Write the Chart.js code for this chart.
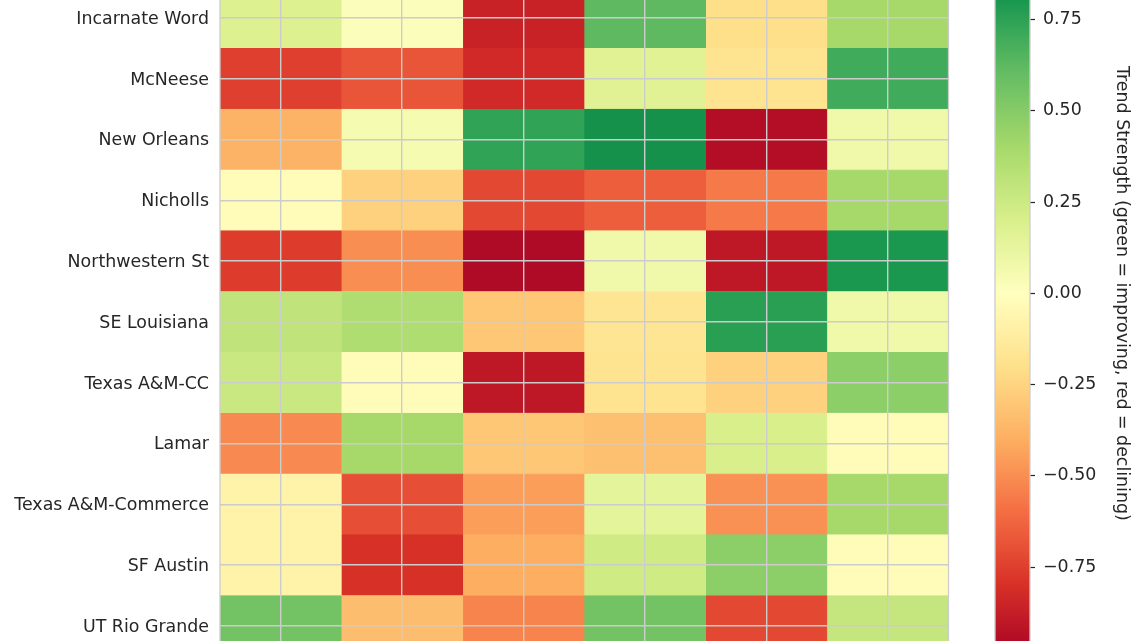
<!DOCTYPE html>
<html>
<head>
<meta charset="utf-8">
<script src="https://cdn.jsdelivr.net/npm/chart.js@4.4.1/dist/chart.umd.min.js"></script>
<style>
  html, body { margin: 0; padding: 0; background: #fff; width: 1140px; height: 641px; overflow: hidden; }
  #heat-wrap { position: absolute; left: 0; top: -34.5px; width: 960px; height: 724px; }
  #bar-wrap { position: absolute; left: 990px; top: -100px; width: 150px; height: 790px; }
</style>
</head>
<body>
<div id="heat-wrap"><canvas id="heatmap"></canvas></div>
<div id="bar-wrap"><canvas id="colorbar"></canvas></div>
<script>
// ====== Data ======
const teams = [
  'Incarnate Word', 'McNeese', 'New Orleans', 'Nicholls', 'Northwestern St',
  'SE Louisiana', 'Texas A&M-CC', 'Lamar', 'Texas A&M-Commerce', 'SF Austin', 'UT Rio Grande'
];

// trend strength per team, one value per column (left to right)
const incarnateWord   = [0.18, 0.02, -0.86, 0.62, -0.20, 0.40];
const mcneese         = [-0.75, -0.68, -0.83, 0.16, -0.18, 0.70];
const newOrleans      = [-0.38, 0.05, 0.74, 0.83, -0.94, 0.08];
const nicholls        = [-0.02, -0.26, -0.72, -0.65, -0.56, 0.40];
const northwesternSt  = [-0.76, -0.50, -0.96, 0.08, -0.90, 0.80];
const seLouisiana     = [0.30, 0.36, -0.30, -0.17, 0.76, 0.08];
const texasAmCC       = [0.26, -0.02, -0.90, -0.18, -0.26, 0.48];
const lamar           = [-0.51, 0.40, -0.30, -0.33, 0.20, -0.02];
const texasAmCommerce = [-0.08, -0.70, -0.45, 0.14, -0.49, 0.40];
const sfAustin        = [-0.08, -0.80, -0.40, 0.24, 0.48, -0.02];
const utRioGrande     = [0.56, -0.34, -0.53, 0.56, -0.72, 0.28];

const trendRows = [
  incarnateWord, mcneese, newOrleans, nicholls, northwesternSt,
  seLouisiana, texasAmCC, lamar, texasAmCommerce, sfAustin, utRioGrande
];

const colorMin = -1;
const colorMax = 1;
const colorbarTicks = [-0.75, -0.5, -0.25, 0, 0.25, 0.5, 0.75];
const colorbarTitle = 'Trend Strength (green = improving, red = declining)';

// ====== Colormap (RdYlGn) ======
const rdYlGn = [
  [165, 0, 38], [215, 48, 39], [244, 109, 67], [253, 174, 97], [254, 224, 139],
  [255, 255, 191], [217, 239, 139], [166, 217, 106], [102, 189, 99], [26, 152, 80], [0, 104, 55]
];

function colorFor(v) {
  let t = (v - colorMin) / (colorMax - colorMin);
  t = Math.max(0, Math.min(1, t));
  const pos = t * (rdYlGn.length - 1);
  const i = Math.min(Math.floor(pos), rdYlGn.length - 2);
  const f = pos - i;
  const a = rdYlGn[i], b = rdYlGn[i + 1];
  const c = a.map((x, k) => Math.round(x + (b[k] - x) * f));
  return `rgb(${c[0]}, ${c[1]}, ${c[2]})`;
}

const FONT = 'DejaVu Sans';
const TEXT = '#262626';
const GRID = '#cccccc';

// outline round the plot area
const outline = {
  id: 'outline',
  afterDraw(chart) {
    const { ctx, chartArea: a } = chart;
    ctx.save();
    ctx.strokeStyle = GRID;
    ctx.lineWidth = 1.3;
    ctx.strokeRect(a.left, a.top, a.right - a.left, a.bottom - a.top);
    ctx.restore();
  }
};

// ====== Heatmap ======
const nCols = trendRows[0].length;
const datasets = [];
for (let c = 0; c < nCols; c++) {
  datasets.push({
    data: teams.map(() => [c, c + 1]),
    backgroundColor: trendRows.map(row => colorFor(row[c])),
    borderColor: trendRows.map(row => colorFor(row[c])),
    borderWidth: 0.6,
    borderSkipped: false,
    barPercentage: 1,
    categoryPercentage: 1,
    grouped: false
  });
}

new Chart(document.getElementById('heatmap'), {
  type: 'bar',
  data: { labels: teams, datasets: datasets },
  options: {
    indexAxis: 'y',
    responsive: true,
    maintainAspectRatio: false,
    animation: false,
    layout: { padding: { top: 21.4, bottom: 33.7, right: 11.5, left: 0 } },
    plugins: { legend: { display: false }, tooltip: { enabled: false } },
    scales: {
      x: {
        type: 'linear',
        min: 0,
        max: nCols,
        afterBuildTicks: scale => {
          scale.ticks = Array.from({ length: nCols }, (_, i) => ({ value: i + 0.5 }));
        },
        afterFit: scale => { scale.height = 0; },
        ticks: { display: false },
        grid: { z: 1, color: GRID, lineWidth: 1.4, drawTicks: false },
        border: { display: false }
      },
      y: {
        afterFit: scale => { scale.width = 220; },
        ticks: { color: TEXT, font: { family: FONT, size: 17.4 }, padding: 11, labelOffset: 1.5 },
        grid: { z: 1, offset: false, color: GRID, lineWidth: 1.4, drawTicks: false },
        border: { display: false }
      }
    }
  },
  plugins: [outline]
});

// ====== Colorbar ======
const gradientFill = {
  id: 'gradientFill',
  beforeDatasetsDraw(chart) {
    const { ctx, chartArea: a, scales: { y } } = chart;
    const g = ctx.createLinearGradient(0, y.getPixelForValue(colorMin), 0, y.getPixelForValue(colorMax));
    const steps = 40;
    for (let i = 0; i <= steps; i++) {
      const v = colorMin + (colorMax - colorMin) * i / steps;
      g.addColorStop(i / steps, colorFor(v));
    }
    ctx.save();
    ctx.fillStyle = g;
    ctx.fillRect(a.left, a.top, a.right - a.left, a.bottom - a.top);
    ctx.restore();
  }
};

new Chart(document.getElementById('colorbar'), {
  type: 'scatter',
  data: { datasets: [{ data: [] }] },
  options: {
    responsive: true,
    maintainAspectRatio: false,
    animation: false,
    layout: { padding: { top: 28.3, bottom: 31.5, left: 5, right: 0 } },
    plugins: { legend: { display: false }, tooltip: { enabled: false } },
    scales: {
      x: { display: false, min: 0, max: 1 },
      y: {
        position: 'right',
        min: colorMin,
        max: colorMax,
        afterFit: scale => { scale.width = 110; },
        afterBuildTicks: scale => {
          scale.ticks = colorbarTicks.map(v => ({ value: v }));
        },
        ticks: {
          color: TEXT,
          font: { family: FONT, size: 17.4 },
          padding: 8,
          callback: v => v.toFixed(2).replace('-', '\u2212')
        },
        grid: { drawOnChartArea: false, drawTicks: true, tickLength: 5, tickColor: TEXT, tickWidth: 1.2 },
        border: { display: false },
        title: {
          display: true,
          text: colorbarTitle,
          color: TEXT,
          font: { family: FONT, size: 17.4 },
          padding: { top: 7.6, bottom: 0 }
        }
      }
    }
  },
  plugins: [gradientFill, outline]
});
</script>
</body>
</html>
